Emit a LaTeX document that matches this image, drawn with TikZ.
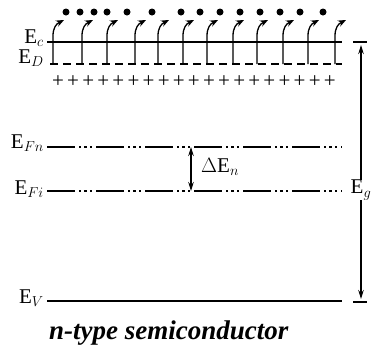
\documentclass[tikz,border=0pt]{standalone}
\usepackage{fontspec}
\setmainfont{Liberation Serif}
\usepackage{tikz}
\usetikzlibrary{arrows.meta,positioning,calc}
\definecolor{cLine}{RGB}{0,0,0}
\tikzset{
  band/.style={draw=cLine, line width=2.6pt},
  donor/.style={draw=cLine, line width=1.3pt, dash pattern=on 8pt off 5pt},
  fermi/.style={draw=cLine, line width=1.3pt,
                dash pattern=on 28pt off 4pt on 2pt off 3pt on 3pt off 3pt on 2pt off 4pt},
  lvl/.style={font=\fontsize{21}{22}\selectfont, anchor=east, inner sep=1pt},
  jump/.style={draw=cLine, line width=1.3pt, -{Stealth[length=8pt,width=6.5pt]}},
  gap/.style={draw=cLine, line width=1.3pt, {Stealth[length=9pt,width=5.5pt]}-{Stealth[length=9pt,width=5.5pt]}},
  elec/.style={circle, fill=cLine, inner sep=0pt, minimum size=7pt},
  ion/.style={font=\fontsize{21}{22}\selectfont, inner sep=0pt},
  captxt/.style={font=\fontsize{27}{28}\selectfont\bfseries\itshape, inner sep=0pt},
}

\begin{document}
\begin{tikzpicture}[x=1pt, y=-1pt]
  \useasboundingbox (0,0) rectangle (372,354);
  % band edges and levels
  \coordinate (ecL) at (47,42);  \coordinate (ecR) at (342,42);
  \coordinate (edL) at (50,64);  \coordinate (edR) at (342,64);
  \coordinate (fnL) at (47,147); \coordinate (fnR) at (342,147);
  \coordinate (fiL) at (47,191); \coordinate (fiR) at (342,191);
  \coordinate (evL) at (47,301); \coordinate (evR) at (342,301);
  \draw[band] (ecL) -- (ecR);
  \draw[band] (evL) -- (evR);
  \draw[donor] (edL) -- (edR);
  \draw[fermi] (fnL) -- (fnR);
  \draw[fermi] (fiL) -- (fiR);
  \node[lvl] (ec) at (45,38) {E$_{c}$};
  \node[lvl] (ed) at (45,58) {E$_{D}$};
  \node[lvl] (efn) at (45,143) {E$_{Fn}$};
  \node[lvl] (efi) at (45,189) {E$_{Fi}$};
  \node[lvl] (ev) at (45,298) {E$_{V}$};
  % ionised donors
  \foreach \i in {0,...,18}
    \node[ion] (p\i) at (58+15.1*\i,82) {+};
  % free electrons
  \foreach \x [count=\k] in {66,80,94,107,127,152,181,200,220,240,260,280,300,323}
    \node[elec] (e\k) at (\x,12) {};
  % excitation from donor level
  \foreach \x in {53,82,107,135,158,183,207,233,257,283,308,335}
    \draw[jump] (\x,64) -- (\x,36) .. controls (\x,28) and ($(\x,28)+(3,-4)$) .. ($(\x,28)+(11,-8)$);
  % Fermi level shift
  \coordinate (dnT) at (191,147);
  \coordinate (dnB) at (191,191);
  \draw[gap] (dnT) -- (dnB);
  \node[lvl, anchor=west] (den) at (200,167) {$\Delta$E$_{n}$};
  % gap energy
  \coordinate (tT) at (353,42);  \coordinate (tT2) at (367,42);
  \coordinate (tB) at (353,302); \coordinate (tB2) at (367,302);
  \draw[line width=1.3pt] (tT) -- (tT2);
  \draw[line width=1.3pt] (tB) -- (tB2);
  \coordinate (gT) at (361,45);
  \coordinate (gB) at (361,299);
  \draw[gap] (gT) -- (gB);
  \node[lvl, anchor=east, fill=white, inner sep=0.5pt] (eg) at (372,190) {E$_{g}$};
  % caption
  \node[captxt, anchor=west] (title) at (49,333) {n-type semiconductor};
\end{tikzpicture}
\end{document}
